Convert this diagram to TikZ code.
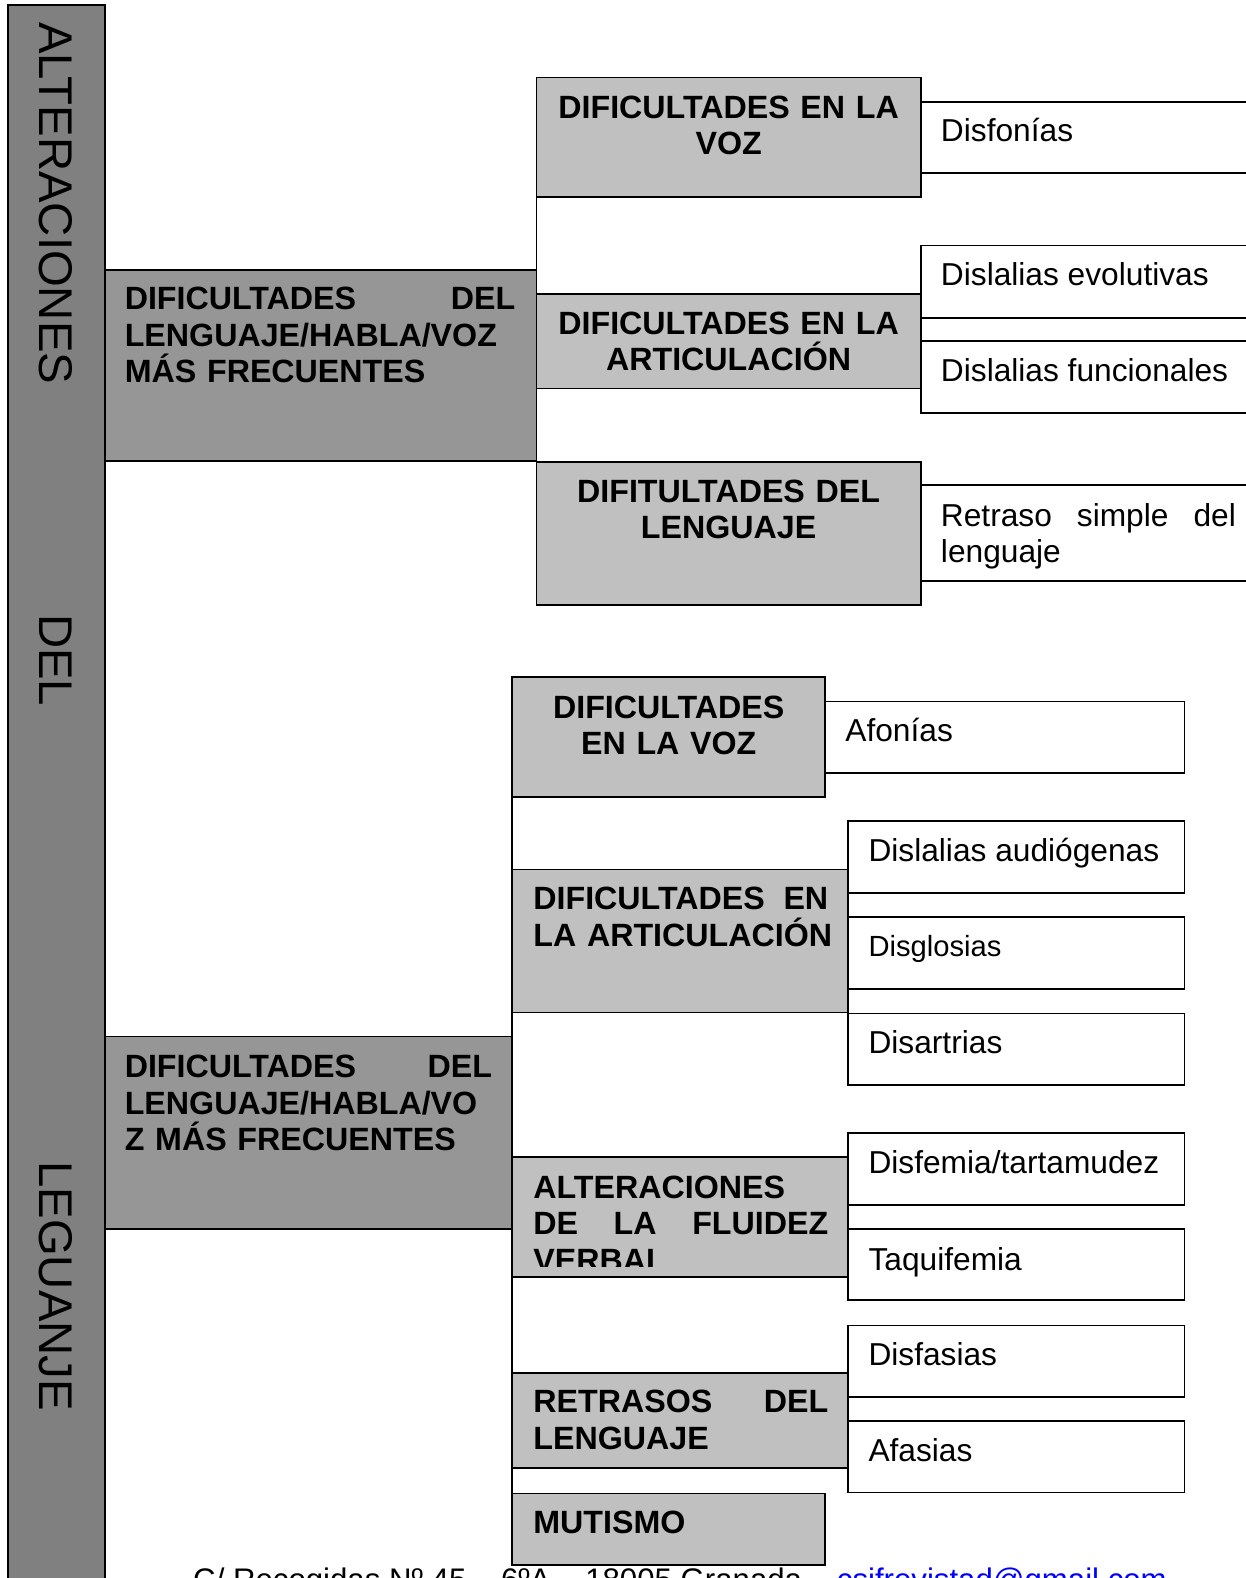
\documentclass[tikz,border=0pt]{standalone}
\usepackage{fontspec}
\setmainfont{Liberation Sans}
\usetikzlibrary{positioning}

\definecolor{barfill}{HTML}{808080}
\definecolor{mainfill}{HTML}{969696}
\definecolor{subfill}{HTML}{C0C0C0}
\definecolor{mailblue}{HTML}{0000FF}

\tikzset{
  every node/.style={inner sep=0pt, outer sep=0pt},
  box/.style={draw, line width=1.8pt, anchor=north west},
  bar/.style={box, fill=barfill},
  mainbox/.style={box, fill=mainfill},
  subbox/.style={box, fill=subfill},
  leafbox/.style={box, fill=white},
  sidetext/.style={rotate=-90, font=\fontsize{47}{50}\selectfont},
  headtext/.style={font=\fontsize{32}{36}\selectfont\bfseries, anchor=base west, align=left},
  midtext/.style={font=\fontsize{32}{36}\selectfont\bfseries, anchor=base, align=center},
  leaftext/.style={font=\fontsize{31.5}{36}\selectfont, anchor=base west, align=left},
}

\begin{document}
\begin{tikzpicture}[x=1pt, y=-1pt]
    \useasboundingbox (0,0) rectangle (1238,1568);
    \clip (0,0) rectangle (1238,1568);

    % side bar
    \node[bar, minimum width=96pt, minimum height=1600pt] (alt) at (8,5) {};
    \node[sidetext] (altA) at (55,202) {ALTERACIONES};
    \node[sidetext] (altB) at (55,656) {DEL};
    \node[sidetext] (altC) at (55,1278) {LEGUANJE};

    % first level
    \node[mainbox, minimum width=429pt, minimum height=190pt] (dif1) at (104,268) {};
    \node[mainbox, minimum width=405pt, minimum height=191pt] (dif2) at (104,1030) {};

    % second level, top
    \node[subbox, minimum width=382pt, minimum height=119pt] (voz1) at (533,77) {};
    \node[subbox, minimum width=382pt, minimum height=94pt] (art1) at (533,292) {};
    \node[subbox, minimum width=382pt, minimum height=142pt] (len1) at (533,459) {};

    % second level, bottom
    \node[subbox, minimum width=311pt, minimum height=119pt] (voz2) at (509,673) {};
    \node[subbox, minimum width=334pt, minimum height=142pt] (art2) at (509,864) {};
    \node[subbox, minimum width=334pt, minimum height=119pt] (flu2) at (509,1150) {};
    \node[subbox, minimum width=334pt, minimum height=95pt] (ret2) at (509,1364) {};
    \node[subbox, minimum width=311pt, minimum height=71pt] (mut2) at (509,1484) {};

    % leaves, top
    \node[leafbox, minimum width=345pt, minimum height=71pt] (disfon) at (915,101) {};
    \node[leafbox, minimum width=345pt, minimum height=72pt] (disevo) at (915,244) {};
    \node[leafbox, minimum width=345pt, minimum height=71pt] (disfun) at (915,339) {};
    \node[leafbox, minimum width=345pt, minimum height=95pt] (retsim) at (915,482) {};

    % leaves, bottom
    \node[leafbox, minimum width=357pt, minimum height=71pt] (afon) at (820,697) {};
    \node[leafbox, minimum width=334pt, minimum height=71pt] (disaud) at (843,816) {};
    \node[leafbox, minimum width=334pt, minimum height=72pt] (disglo) at (843,911) {};
    \node[leafbox, minimum width=334pt, minimum height=71pt] (disart) at (843,1007) {};
    \node[leafbox, minimum width=334pt, minimum height=71pt] (disfem) at (843,1126) {};
    \node[leafbox, minimum width=334pt, minimum height=71pt] (taqui) at (843,1221) {};
    \node[leafbox, minimum width=334pt, minimum height=71pt] (disfas) at (843,1317) {};
    \node[leafbox, minimum width=334pt, minimum height=71pt] (afas) at (843,1412) {};

    % connectors
    \draw[line width=1.8pt] (voz1.south west) -- (art1.north west);
    \draw[line width=1.8pt] (art1.south west) -- (len1.north west);
    \draw[line width=1.8pt] (voz2.south west) -- (art2.north west);
    \draw[line width=1.8pt] (art2.south west) -- (flu2.north west);
    \draw[line width=1.8pt] (flu2.south west) -- (ret2.north west);
    \draw[line width=1.8pt] (ret2.south west) -- (mut2.north west);

    % texts
    \node[headtext, text width=388pt] (tdif1) at (124,308) {DIFICULTADES \hfill DEL\\LENGUAJE/HABLA/VOZ\\MÁS FRECUENTES};
    \node[headtext, text width=365pt] (tdif2) at (124,1071) {DIFICULTADES \hfill DEL\\LENGUAJE/HABLA/VO\\Z MÁS FRECUENTES};

    \node[midtext, text width=360pt] (tvoz1) at (724,118) {DIFICULTADES EN LA\\VOZ};
    \node[midtext, text width=360pt] (tart1) at (724,332) {DIFICULTADES EN LA\\ARTICULACIÓN};
    \node[midtext, text width=360pt] (tlen1) at (724,499) {DIFITULTADES DEL\\LENGUAJE};

    \node[midtext, text width=290pt] (tvoz2) at (664.5,714) {DIFICULTADES\\EN LA VOZ};
    \node[headtext, text width=293pt] (tart2) at (530,904) {DIFICULTADES \hfill EN\\\mbox{LA ARTICULACIÓN}};
    \begin{scope}
        \clip (flu2.north west) rectangle ([yshift=11pt]flu2.south east);
        \node[headtext, text width=293pt] (tflu2) at (530,1191) {ALTERACIONES\\DE \hfill LA \hfill FLUIDEZ\\VERBAL};
    \end{scope}
    \node[headtext, text width=293pt] (tret2) at (530,1404) {RETRASOS \hfill DEL\\LENGUAJE};
    \node[headtext] (tmut2) at (530,1524) {MUTISMO};

    \node[leaftext] (tdisfon) at (935,141) {Disfonías};
    \node[leaftext] (tdisevo) at (935,284) {Dislalias evolutivas};
    \node[leaftext] (tdisfun) at (935,379) {Dislalias funcionales};
    \node[leaftext, text width=293pt] (tretsim) at (935,523) {Retraso \hfill simple \hfill del\\lenguaje};

    \node[leaftext] (tafon) at (840,737) {Afonías};
    \node[leaftext] (tdisaud) at (863,856) {Dislalias audiógenas};
    \node[leaftext, font=\fontsize{29}{34}\selectfont] (tdisglo) at (863,950) {Disglosias};
    \node[leaftext] (tdisart) at (863,1047) {Disartrias};
    \node[leaftext] (tdisfem) at (863,1166) {Disfemia/tartamudez};
    \node[leaftext] (ttaqui) at (863,1262) {Taquifemia};
    \node[leaftext] (tdisfas) at (863,1357) {Disfasias};
    \node[leaftext] (tafas) at (863,1452) {Afasias};

    % footer
    \node[leaftext, font=\fontsize{31}{36}\selectfont] (pie) at (192,1580) {C/ Recogidas Nº 45 – 6ºA – 18005 Granada – \textcolor{mailblue}{csifrevistad@gmail.com}};
\end{tikzpicture}
\end{document}
